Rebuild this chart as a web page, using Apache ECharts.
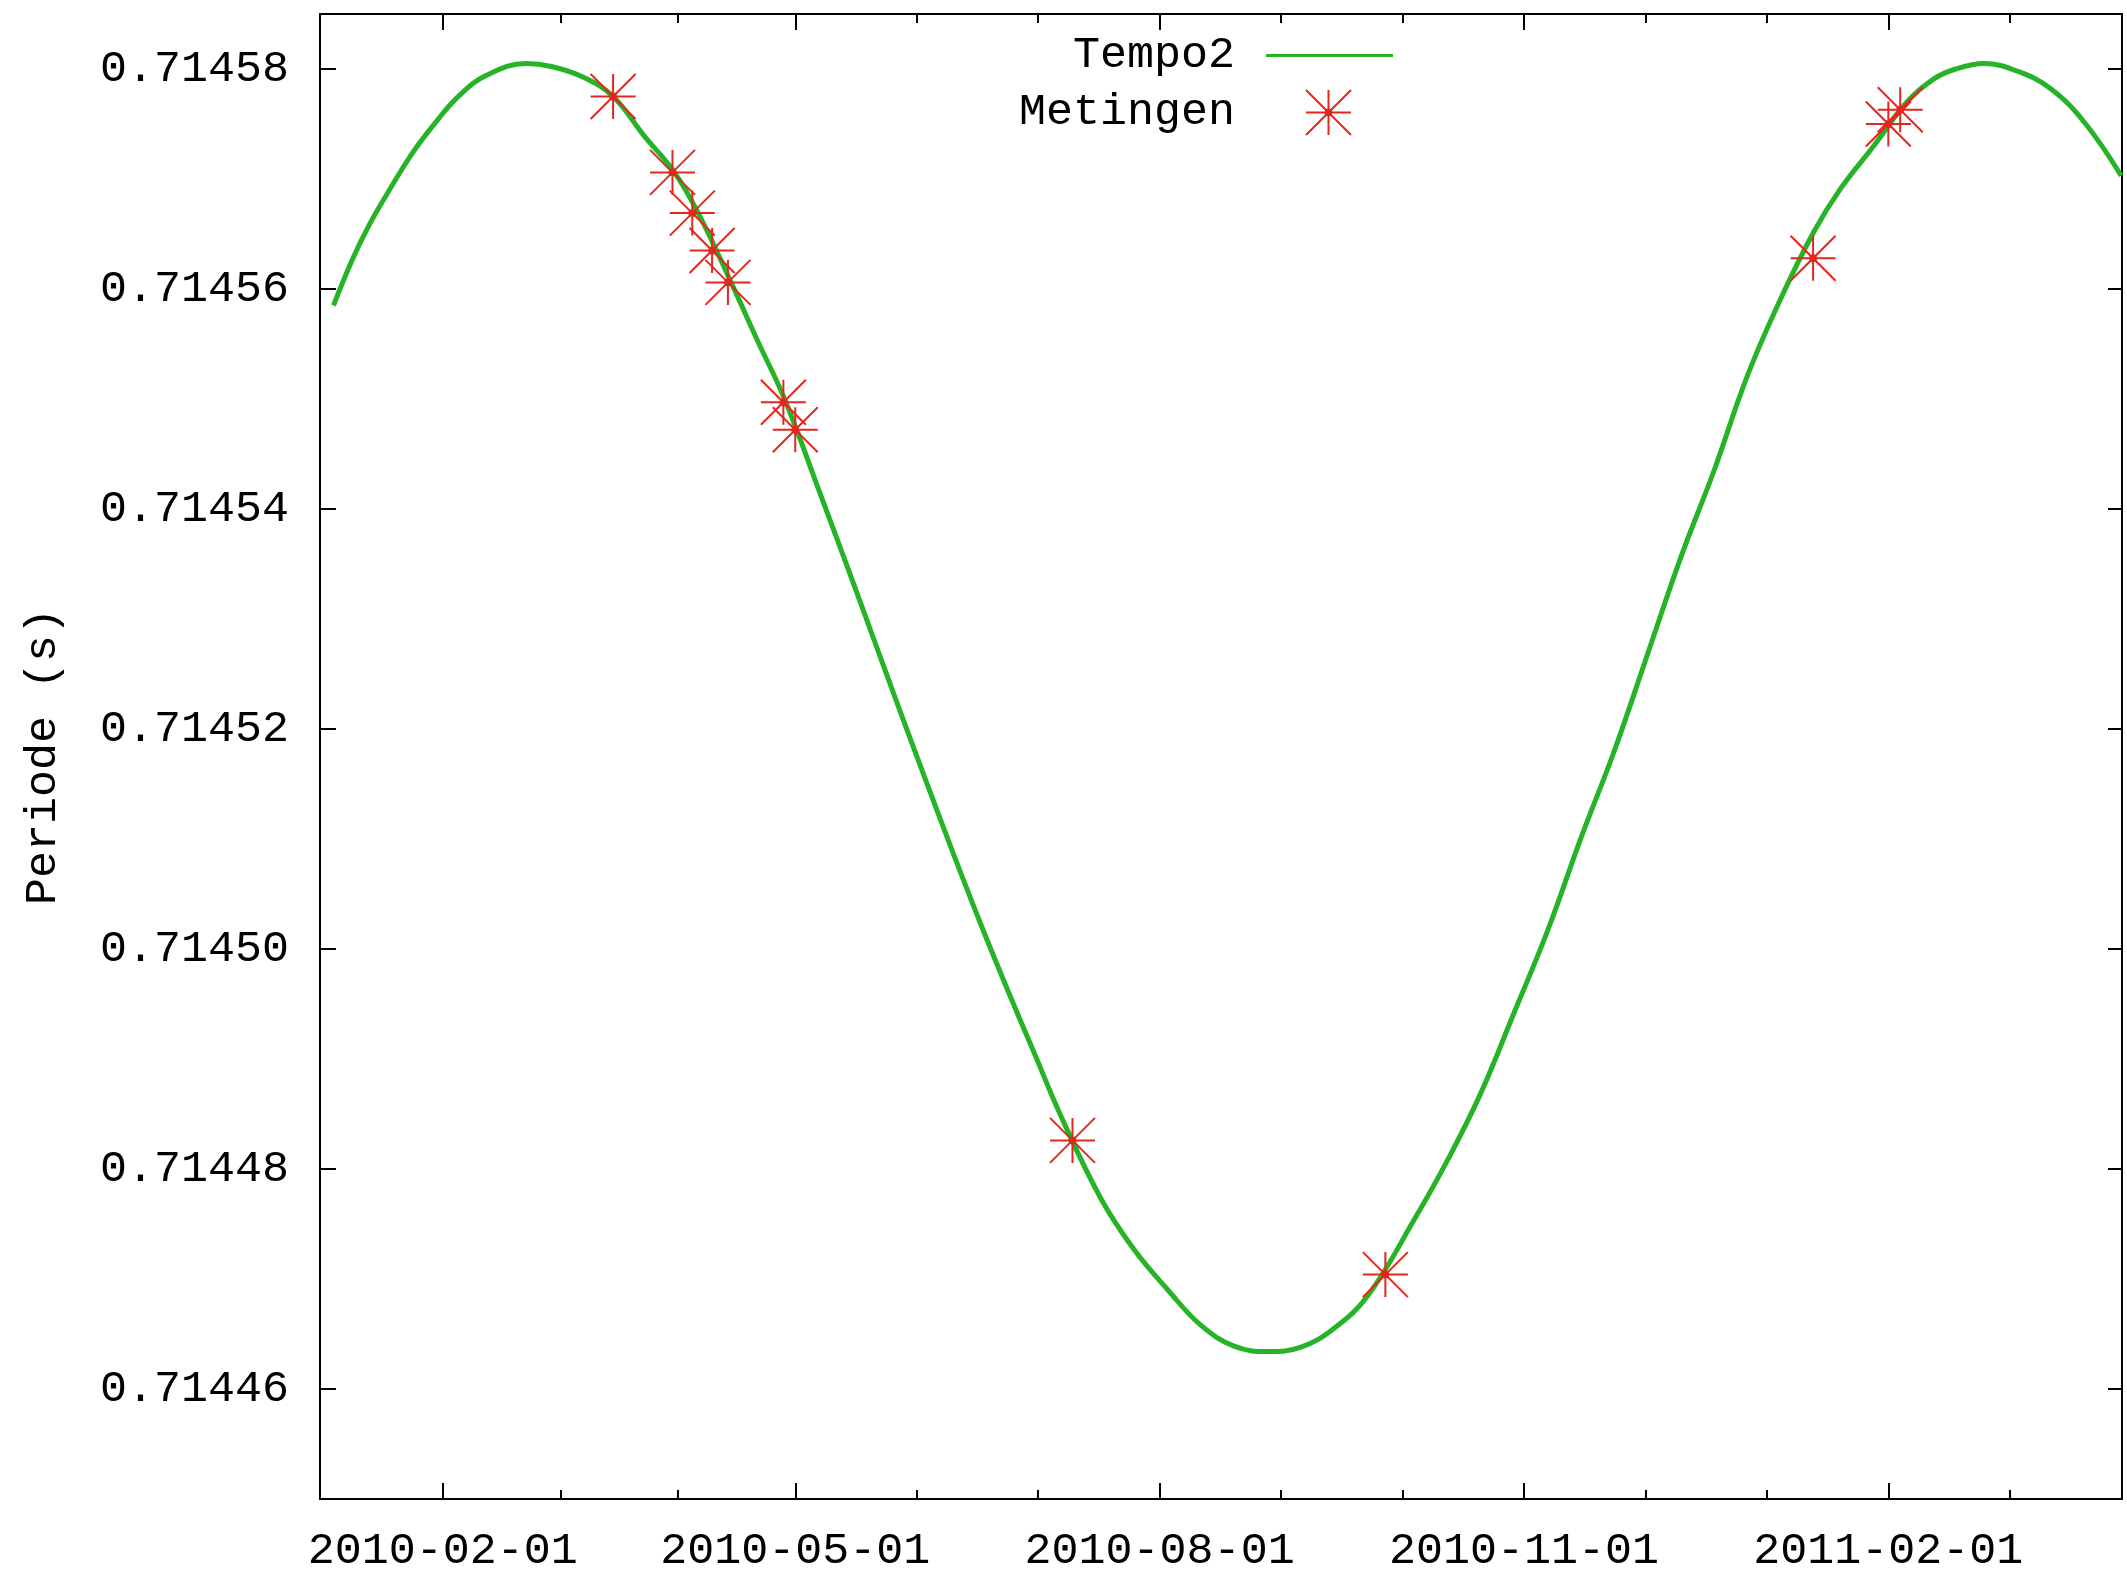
<!DOCTYPE html>
<html>
<head>
<meta charset="utf-8">
<script src="https://cdn.jsdelivr.net/npm/echarts@6/dist/echarts.min.js"></script>
<style>
  html, body { margin: 0; padding: 0; background: #fff; }
  #chart { width: 2127px; height: 1578px; }
</style>
</head>
<body>
<div id="chart"></div>
<script>
// Tempo2 prediction
const curveDates = [
  '2010-01-04 09:36', '2010-01-09 04:48', '2010-01-13 09:36', '2010-01-17 16:48',
  '2010-01-24 09:36', '2010-01-30 07:12', '2010-02-05 04:48', '2010-02-11 21:36',
  '2010-02-22 00:00', '2010-02-28 16:48', '2010-03-08 19:12', '2010-03-16 00:00',
  '2010-03-23 21:36', '2010-03-31 12:00', '2010-04-07 04:48', '2010-04-14 19:12',
  '2010-04-21 14:24', '2010-04-28 07:12', '2010-05-07 12:00', '2010-05-14 07:12',
  '2010-05-21 00:00', '2010-05-27 16:48', '2010-06-03 12:00', '2010-06-10 04:48',
  '2010-06-16 21:36', '2010-06-23 16:48', '2010-06-30 09:36', '2010-07-07 02:24',
  '2010-07-17 04:48', '2010-07-25 12:00', '2010-08-03 02:24', '2010-08-11 09:36',
  '2010-08-19 19:12', '2010-08-28 09:36', '2010-09-05 16:48', '2010-09-14 00:00',
  '2010-09-22 14:24', '2010-10-04 07:12', '2010-10-12 16:48', '2010-10-21 02:24',
  '2010-10-29 12:00', '2010-11-06 21:36', '2010-11-15 09:36', '2010-11-23 19:12',
  '2010-12-02 04:48', '2010-12-10 14:24', '2010-12-19 00:00', '2010-12-27 09:36',
  '2011-01-04 19:12', '2011-01-13 04:48', '2011-01-19 21:36', '2011-01-28 07:12',
  '2011-02-05 16:48', '2011-02-12 12:00', '2011-02-18 00:00', '2011-02-25 02:24',
  '2011-03-05 14:24', '2011-03-14 00:00', '2011-03-22 09:36', '2011-03-31 19:12'
];
const curvePeriods = [
  0.7145585, 0.7145627, 0.7145658, 0.7145685,
  0.7145724, 0.7145752, 0.7145776, 0.7145794,
  0.7145805, 0.7145802, 0.7145792, 0.7145775,
  0.7145739, 0.7145706, 0.7145664, 0.7145606,
  0.7145552, 0.7145500, 0.7145412, 0.7145346,
  0.7145280, 0.7145214, 0.7145148, 0.7145084,
  0.7145022, 0.7144962, 0.7144905, 0.7144848,
  0.7144773, 0.7144727, 0.7144690, 0.7144658,
  0.7144639, 0.7144634, 0.7144638, 0.7144655,
  0.7144685, 0.7144754, 0.7144808, 0.7144869,
  0.7144942, 0.7145016, 0.7145101, 0.7145180,
  0.7145268, 0.7145356, 0.7145435, 0.7145521,
  0.7145591, 0.7145652, 0.7145691, 0.7145730,
  0.7145770, 0.7145791, 0.7145800, 0.7145805,
  0.7145798, 0.7145782, 0.7145752, 0.7145703
];

// measurements
const measDates = [
  '2010-03-16', '2010-03-31', '2010-04-05', '2010-04-10', '2010-04-14', '2010-04-28',
  '2010-05-01', '2010-07-10', '2010-09-27', '2011-01-13', '2011-02-01', '2011-02-04'
];
const measPeriods = [
  0.7145775, 0.7145706, 0.7145669, 0.7145635, 0.7145606, 0.7145497,
  0.7145472, 0.7144826, 0.7144704, 0.7145628, 0.7145750, 0.7145763
];

// axes
const xMin = '2010-01-01';
const xMax = '2011-04-01';
const xMajorTicks = ['2010-02-01', '2010-05-01', '2010-08-01', '2010-11-01', '2011-02-01'];
const xMinorTicks = [
  '2010-03-02 16:00', '2010-04-01 08:00', '2010-05-31 16:00', '2010-07-01 08:00',
  '2010-08-31 16:00', '2010-10-01 08:00', '2010-12-01 16:00', '2011-01-01 08:00',
  '2011-03-03 16:00'
];
const yTicks = [0.71446, 0.71448, 0.71450, 0.71452, 0.71454, 0.71456, 0.71458];
const yMin = 0.71445;
const yMax = 0.714585;

const FONT = 'Liberation Mono';
const FS = 45;
const GREEN = '#27b327';
const RED = '#e5261e';
const parse = s => echarts.time.parse(s).getTime();
const pad = n => (n < 10 ? '0' : '') + n;
const fmtDate = v => {
  const d = new Date(v);
  return d.getFullYear() + '-' + pad(d.getMonth() + 1) + '-' + pad(d.getDate());
};

const chart = echarts.init(document.getElementById('chart'));

const frameLine = { show: true, onZero: false, lineStyle: { color: '#000', width: 2 } };

// gnuplot style frame: ticks inside, mirrored on top
function xAxisOf(position, ticks, len, withLine, withLabel) {
  return {
    type: 'value',
    position: position,
    min: parse(xMin),
    max: parse(xMax),
    axisLine: withLine ? frameLine : { show: false },
    axisTick: {
      show: true, inside: true, length: len,
      customValues: ticks.map(parse),
      lineStyle: { color: '#000', width: 2 }
    },
    axisLabel: withLabel ? {
      show: true,
      customValues: ticks.map(parse),
      margin: 30,
      fontFamily: FONT, fontSize: FS, color: '#000',
      formatter: v => fmtDate(v)
    } : { show: false },
    splitLine: { show: false }
  };
}

const option = {
  animation: false,
  backgroundColor: '#fff',
  grid: { left: 320, right: 5, top: 14, bottom: 79, containLabel: false, outerBoundsMode: 'none' },
  legend: [
    {
      data: ['Tempo2'],
      selectedMode: false,
      align: 'right',
      icon: 'rect',
      right: 734,
      top: 33,
      padding: 0,
      itemWidth: 127,
      itemHeight: 3,
      formatter: '{a|{name}}',
      textStyle: {
        fontFamily: FONT, fontSize: FS, color: '#000',
        rich: { a: { fontFamily: FONT, fontSize: FS, color: '#000', padding: [0, 26, 0, 0] } }
      }
    },
    {
      data: ['Metingen'],
      selectedMode: false,
      align: 'right',
      right: 775,
      top: 89,
      padding: 0,
      itemWidth: 45,
      itemHeight: 45,
      formatter: '{a|{name}}',
      textStyle: {
        fontFamily: FONT, fontSize: FS, color: '#000',
        rich: { a: { fontFamily: FONT, fontSize: FS, color: '#000', padding: [0, 66, 0, 0] } }
      }
    }
  ],
  xAxis: [
    xAxisOf('bottom', xMajorTicks, 16, true, true),
    xAxisOf('bottom', xMinorTicks, 9, false, false),
    xAxisOf('top', xMajorTicks, 16, true, false),
    xAxisOf('top', xMinorTicks, 9, false, false)
  ],
  yAxis: [
    {
      type: 'value',
      position: 'left',
      min: yMin,
      max: yMax,
      name: 'Periode (s)',
      nameLocation: 'middle',
      nameRotate: 90,
      nameGap: 254,
      nameTextStyle: { fontFamily: FONT, fontSize: FS, color: '#000' },
      axisLine: frameLine,
      axisTick: {
        show: true, inside: true, length: 16,
        customValues: yTicks,
        lineStyle: { color: '#000', width: 2 }
      },
      axisLabel: {
        customValues: yTicks,
        margin: 31,
        fontFamily: FONT, fontSize: FS, color: '#000',
        formatter: v => v.toFixed(5)
      },
      splitLine: { show: false }
    },
    {
      type: 'value',
      position: 'right',
      min: yMin,
      max: yMax,
      axisLine: frameLine,
      axisTick: {
        show: true, inside: true, length: 14,
        customValues: yTicks,
        lineStyle: { color: '#000', width: 2 }
      },
      axisLabel: { show: false },
      splitLine: { show: false }
    }
  ],
  series: [
    {
      name: 'Tempo2',
      type: 'line',
      xAxisIndex: 0,
      yAxisIndex: 0,
      data: curveDates.map((d, i) => [parse(d), curvePeriods[i]]),
      symbol: 'none',
      showSymbol: false,
      smooth: 0.4,
      lineStyle: { color: GREEN, width: 5 },
      itemStyle: { color: GREEN },
      z: 2
    },
    {
      name: 'Metingen',
      type: 'scatter',
      xAxisIndex: 0,
      yAxisIndex: 0,
      data: measDates.map((d, i) => [parse(d), measPeriods[i]]),
      symbol: 'path://M0,0L100,100M0,100L100,0M50,0L50,100M0,50L100,50M44,44L56,44L56,56L44,56Z',
      symbolSize: 45,
      itemStyle: { color: RED, borderColor: RED, borderWidth: 2, opacity: 1 },
      z: 3
    }
  ]
};

chart.setOption(option);
</script>
</body>
</html>
